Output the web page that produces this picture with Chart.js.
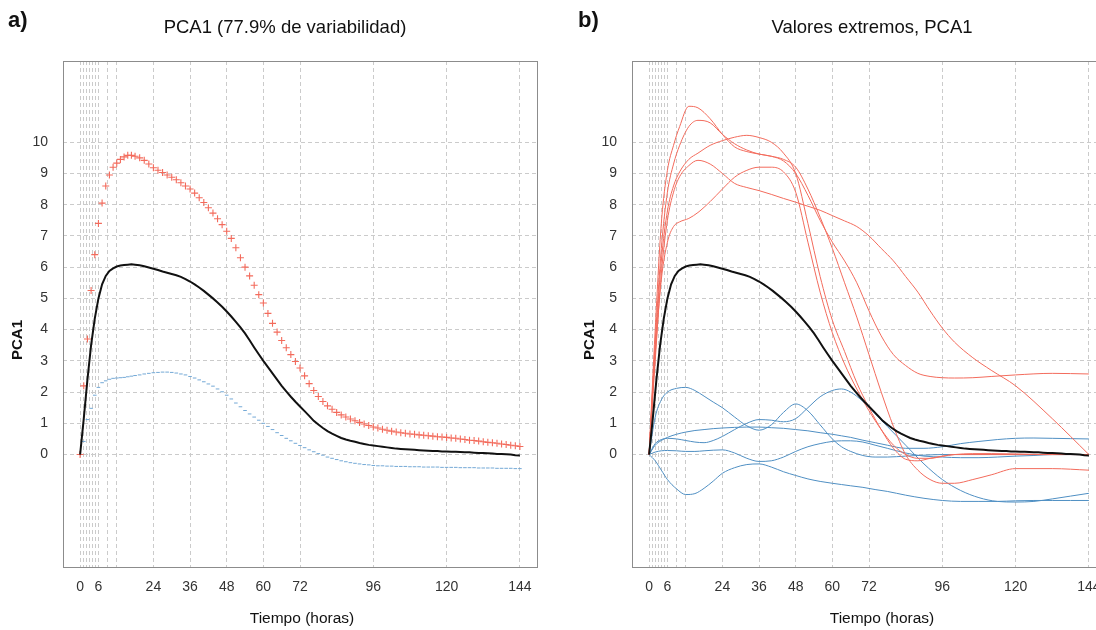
<!DOCTYPE html>
<html>
<head>
<meta charset="utf-8">
<script src="https://cdn.jsdelivr.net/npm/chart.js@4.4.1/dist/chart.umd.min.js"></script>
<style>
  html, body { margin: 0; padding: 0; background: #fff; overflow: hidden; width: 1096px; height: 630px; }
  #wrapA { position: absolute; left: 0; top: 0; width: 560px; height: 630px; }
  #wrapB { position: absolute; left: 570px; top: 0; width: 560px; height: 630px; }
</style>
</head>
<body>
<div id="wrapA"><canvas id="chartA"></canvas></div>
<div id="wrapB"><canvas id="chartB"></canvas></div>
<script>
// === Datos ===
// malla fina (panel a y curva media)
const TIME_FINE = [0,1.2,2.4,3.6,4.8,6,7.2,8.4,9.6,10.8,12,13.2,14.4,15.6,16.8,18,
  19.5,21,22.5,24,25.5,27,28.5,30,31.5,33,34.5,36,
  37.5,39,40.5,42,43.5,45,46.5,48,49.5,51,52.5,54,
  55.5,57,58.5,60,61.5,63,64.5,66,67.5,69,70.5,72,
  73.5,75,76.5,78,79.5,81,82.5,84,85.5,87,88.5,90,
  91.5,93,94.5,96,97.5,99,100.5,102,103.5,105,106.5,108,
  109.5,111,112.5,114,115.5,117,118.5,120,121.5,123,124.5,126,
  127.5,129,130.5,132,133.5,135,136.5,138,139.5,141,142.5,144];

const PCA_MEAN = [0,1.15,2.4,3.5,4.35,5.0,5.45,5.72,5.88,5.96,6.02,6.05,6.07,6.08,6.09,6.08,
  6.06,6.03,5.99,5.95,5.91,5.86,5.82,5.78,5.74,5.69,5.62,5.54,
  5.45,5.35,5.24,5.12,5.0,4.87,4.73,4.58,4.42,4.25,4.07,3.88,
  3.66,3.43,3.21,3.0,2.8,2.6,2.4,2.2,2.02,1.85,1.69,1.54,
  1.39,1.24,1.08,0.96,0.85,0.75,0.67,0.6,0.53,0.48,0.44,0.41,
  0.37,0.34,0.31,0.29,0.27,0.25,0.23,0.21,0.19,0.18,0.17,0.16,
  0.15,0.14,0.13,0.12,0.11,0.11,0.1,0.1,0.09,0.09,0.08,0.07,
  0.07,0.06,0.05,0.05,0.04,0.03,0.02,0.02,0.01,0.0,-0.02,-0.03];

const PCA_PLUS = [0,2.2,3.7,5.25,6.4,7.4,8.05,8.6,8.95,9.2,9.33,9.45,9.53,9.58,9.58,9.55,
  9.5,9.42,9.3,9.18,9.1,9.03,8.95,8.88,8.8,8.7,8.6,8.5,
  8.37,8.22,8.07,7.9,7.73,7.55,7.36,7.15,6.92,6.62,6.3,6.0,
  5.72,5.42,5.12,4.85,4.52,4.2,3.92,3.65,3.42,3.2,2.98,2.77,
  2.52,2.27,2.05,1.86,1.7,1.56,1.45,1.35,1.27,1.2,1.14,1.08,
  1.03,0.98,0.93,0.88,0.85,0.81,0.78,0.75,0.72,0.7,0.68,0.66,
  0.65,0.63,0.62,0.6,0.59,0.57,0.56,0.55,0.53,0.52,0.5,0.48,
  0.46,0.45,0.43,0.41,0.39,0.38,0.36,0.34,0.32,0.3,0.28,0.26];

const PCA_MINUS = [0,0.42,1.12,1.48,1.9,2.15,2.3,2.36,2.41,2.44,2.45,2.46,2.47,2.49,2.51,2.53,
  2.55,2.58,2.6,2.62,2.63,2.64,2.64,2.63,2.61,2.58,2.55,2.5,
  2.45,2.39,2.33,2.26,2.19,2.1,2.01,1.9,1.78,1.65,1.53,1.41,
  1.3,1.2,1.1,1.0,0.9,0.8,0.7,0.61,0.52,0.44,0.36,0.29,
  0.22,0.15,0.09,0.03,-0.02,-0.08,-0.12,-0.16,-0.2,-0.23,-0.26,-0.28,
  -0.3,-0.32,-0.33,-0.35,-0.36,-0.36,-0.37,-0.37,-0.38,-0.38,-0.38,-0.39,
  -0.39,-0.39,-0.4,-0.4,-0.4,-0.4,-0.41,-0.41,-0.41,-0.41,-0.42,-0.42,
  -0.42,-0.42,-0.43,-0.43,-0.43,-0.43,-0.44,-0.44,-0.44,-0.44,-0.45,-0.45];

// panel b: curvas extremas
const TIME_RED = [0,2,4,6,8,10,13,16,20,24,28,32,36,40,44,48,52,56,60,64,68,72,76,80,84,88,92,96,100,106,112,120,132,144];
const RED_1 = [0,4.0,7.4,9.1,9.9,10.5,11.15,11.1,10.75,10.25,9.85,9.7,9.62,9.55,9.45,9.2,8.5,7.6,6.6,5.5,4.4,3.2,2.0,0.9,0.0,-0.5,-0.8,-0.92,-0.92,-0.8,-0.65,-0.45,-0.45,-0.5];
const RED_2 = [0,3.6,6.6,8.4,9.3,9.9,10.5,10.7,10.62,10.25,9.95,9.75,9.62,9.55,9.4,9.0,8.3,7.5,6.8,6.2,5.5,4.6,3.8,3.2,2.85,2.6,2.5,2.46,2.45,2.46,2.5,2.55,2.6,2.58];
const RED_3 = [0,3.4,6.2,7.8,8.6,9.05,9.45,9.65,9.9,10.05,10.16,10.22,10.15,10.0,9.65,9.0,7.4,5.7,4.3,3.3,2.3,1.5,0.8,0.2,-0.15,-0.2,-0.12,-0.05,0.0,0.03,0.03,0.02,0.0,0.0];
const RED_4 = [0,3.0,5.8,7.5,8.4,8.9,9.25,9.42,9.3,9.0,8.68,8.55,8.45,8.33,8.2,8.08,7.95,7.82,7.65,7.48,7.3,7.0,6.6,6.2,5.7,5.2,4.6,4.05,3.6,3.1,2.7,2.2,1.15,0.0];
const RED_5 = [0,3.2,5.6,6.8,7.3,7.45,7.56,7.75,8.1,8.5,8.88,9.1,9.2,9.2,9.05,8.4,6.8,5.2,3.9,2.9,2.1,1.4,0.8,0.3,0.0,-0.12,-0.12,-0.06,0.0,0.0,0.0,0.0,0.0,0.0];

const TIME_BLUE = [0,2,4,6,9,12,15,18,21,24,28,32,36,40,44,48,52,56,60,63,66,70,74,78,84,90,96,102,108,114,120,126,132,138,144];
const BLUE_1 = [0,1.2,1.75,2.0,2.12,2.15,2.05,1.87,1.68,1.5,1.2,0.92,0.78,0.95,1.35,1.62,1.4,0.95,0.5,0.25,0.1,-0.03,-0.08,-0.08,-0.05,-0.02,0,0,0,0,0,0,0,0,0];
const BLUE_2 = [0,0.35,0.48,0.52,0.5,0.45,0.4,0.38,0.45,0.58,0.8,1.0,1.12,1.1,1.05,1.15,1.5,1.85,2.05,2.1,2.0,1.7,1.3,0.9,0.3,-0.3,-0.8,-1.15,-1.38,-1.5,-1.52,-1.5,-1.42,-1.33,-1.24];
const BLUE_3 = [0,0.3,0.45,0.55,0.65,0.72,0.77,0.8,0.83,0.85,0.87,0.88,0.88,0.86,0.84,0.8,0.76,0.7,0.65,0.6,0.55,0.46,0.38,0.3,0.2,0.2,0.25,0.35,0.42,0.48,0.52,0.53,0.52,0.51,0.5];
const BLUE_4 = [0,0.08,0.12,0.13,0.12,0.1,0.1,0.12,0.14,0.15,0.05,-0.12,-0.22,-0.2,-0.08,0.1,0.25,0.35,0.42,0.44,0.44,0.4,0.3,0.2,0.05,-0.05,-0.08,-0.1,-0.1,-0.08,-0.05,-0.03,0,0,0];
const BLUE_5 = [0,-0.2,-0.5,-0.8,-1.1,-1.28,-1.25,-1.08,-0.85,-0.6,-0.42,-0.32,-0.3,-0.4,-0.55,-0.67,-0.78,-0.86,-0.92,-0.96,-1.0,-1.05,-1.12,-1.18,-1.3,-1.4,-1.47,-1.5,-1.5,-1.5,-1.48,-1.47,-1.47,-1.47,-1.47];

// ejes
const X_GRID = [0,1,2,3,4,5,6,9,12,24,36,48,60,72,96,120,144];
const X_LABELS = [0,6,24,36,48,60,72,96,120,144];
const Y_TICKS = [0,1,2,3,4,5,6,7,8,9,10];

// === Estilo ===
const FONT = '"Liberation Sans", Arial, sans-serif';
const C_RED = '#f36b5c';
const C_BLUE = '#4f8fc3';
const C_BLUE_PT = '#74a9d6';
const C_GRID = '#cbcbcb';

const pts = (xs, ys) => xs.map((x, i) => ({ x: x, y: ys[i] }));

// marco y textos de cada panel
const panelDecor = {
  id: 'panelDecor',
  afterDraw(chart, args, o) {
    const ctx = chart.ctx, a = chart.chartArea;
    ctx.save();
    ctx.strokeStyle = '#8c8c8c';
    ctx.lineWidth = 1;
    ctx.strokeRect(Math.round(a.left) + 0.5, Math.round(a.top) + 0.5, Math.round(a.right - a.left), Math.round(a.bottom - a.top));
    ctx.fillStyle = '#111';
    ctx.textBaseline = 'middle';
    ctx.textAlign = 'left';
    ctx.font = 'bold 22px ' + FONT;
    ctx.fillText(o.tag, o.tagX, 21);
    ctx.textAlign = 'center';
    ctx.font = '18.5px ' + FONT;
    ctx.fillText(o.title, o.titleX, 28);
    ctx.font = '15.5px ' + FONT;
    ctx.fillText('Tiempo (horas)', o.xTitleX, 619);
    ctx.translate(o.yTitleX, 340);
    ctx.rotate(-Math.PI / 2);
    ctx.font = 'bold 15px ' + FONT;
    ctx.fillText('PCA1', 0, 0);
    ctx.restore();
  }
};

function scalesCfg(yWidth) {
  return {
    x: {
      type: 'linear', min: -5.6, max: 149.6,
      afterBuildTicks: s => { s.ticks = X_GRID.map(v => ({ value: v })); },
      afterFit: s => { s.height = 63; },
      ticks: {
        autoSkip: false, maxRotation: 0, padding: 12, color: '#333',
        font: { family: FONT, size: 14 },
        callback: v => X_LABELS.includes(v) ? String(v) : ''
      },
      grid: { color: C_GRID, lineWidth: 1, drawTicks: false },
      border: { display: false, dash: [4, 3] }
    },
    y: {
      type: 'linear', min: -3.6, max: 12.6,
      afterBuildTicks: s => { s.ticks = Y_TICKS.map(v => ({ value: v })); },
      afterFit: s => { s.width = yWidth; },
      ticks: { padding: 15, color: '#333', font: { family: FONT, size: 14 } },
      grid: { color: C_GRID, lineWidth: 1, drawTicks: false },
      border: { display: false, dash: [4, 3] }
    }
  };
}

function meanDataset() {
  return { data: pts(TIME_FINE, PCA_MEAN), borderColor: '#111', borderWidth: 2, pointRadius: 0, tension: 0 };
}

// === Panel a ===
new Chart(document.getElementById('chartA'), {
  type: 'line',
  data: {
    datasets: [
      meanDataset(),
      { data: pts(TIME_FINE, PCA_PLUS), showLine: false, pointStyle: 'cross', pointRadius: 3.5,
        borderColor: C_RED, pointBorderWidth: 1.1, backgroundColor: C_RED },
      { data: pts(TIME_FINE, PCA_MINUS), showLine: false, pointStyle: 'line', pointRadius: 1.8,
        borderColor: C_BLUE_PT, pointBorderWidth: 1, backgroundColor: C_BLUE_PT }
    ]
  },
  options: {
    responsive: true, maintainAspectRatio: false, animation: false, devicePixelRatio: 1,
    layout: { padding: { top: 61, right: 23, bottom: 0, left: 0 } },
    plugins: {
      legend: { display: false }, title: { display: false }, tooltip: { enabled: false },
      panelDecor: { tag: 'a)', tagX: 8, title: 'PCA1 (77.9% de variabilidad)', titleX: 285, xTitleX: 302, yTitleX: 18 }
    },
    scales: scalesCfg(63)
  },
  plugins: [panelDecor]
});

// === Panel b ===
const redSets = [RED_1, RED_2, RED_3, RED_4, RED_5].map(ys => ({
  data: pts(TIME_RED, ys), borderColor: C_RED, borderWidth: 1, pointRadius: 0, cubicInterpolationMode: 'monotone'
}));
const blueSets = [BLUE_1, BLUE_2, BLUE_3, BLUE_4, BLUE_5].map(ys => ({
  data: pts(TIME_BLUE, ys), borderColor: C_BLUE, borderWidth: 1, pointRadius: 0, cubicInterpolationMode: 'monotone'
}));

new Chart(document.getElementById('chartB'), {
  type: 'line',
  data: { datasets: [meanDataset()].concat(redSets, blueSets) },
  options: {
    responsive: true, maintainAspectRatio: false, animation: false, devicePixelRatio: 1,
    layout: { padding: { top: 61, right: 24, bottom: 0, left: 0 } },
    plugins: {
      legend: { display: false }, title: { display: false }, tooltip: { enabled: false },
      panelDecor: { tag: 'b)', tagX: 8, title: 'Valores extremos, PCA1', titleX: 302, xTitleX: 312, yTitleX: 20 }
    },
    scales: scalesCfg(62)
  },
  plugins: [panelDecor]
});
</script>
</body>
</html>
